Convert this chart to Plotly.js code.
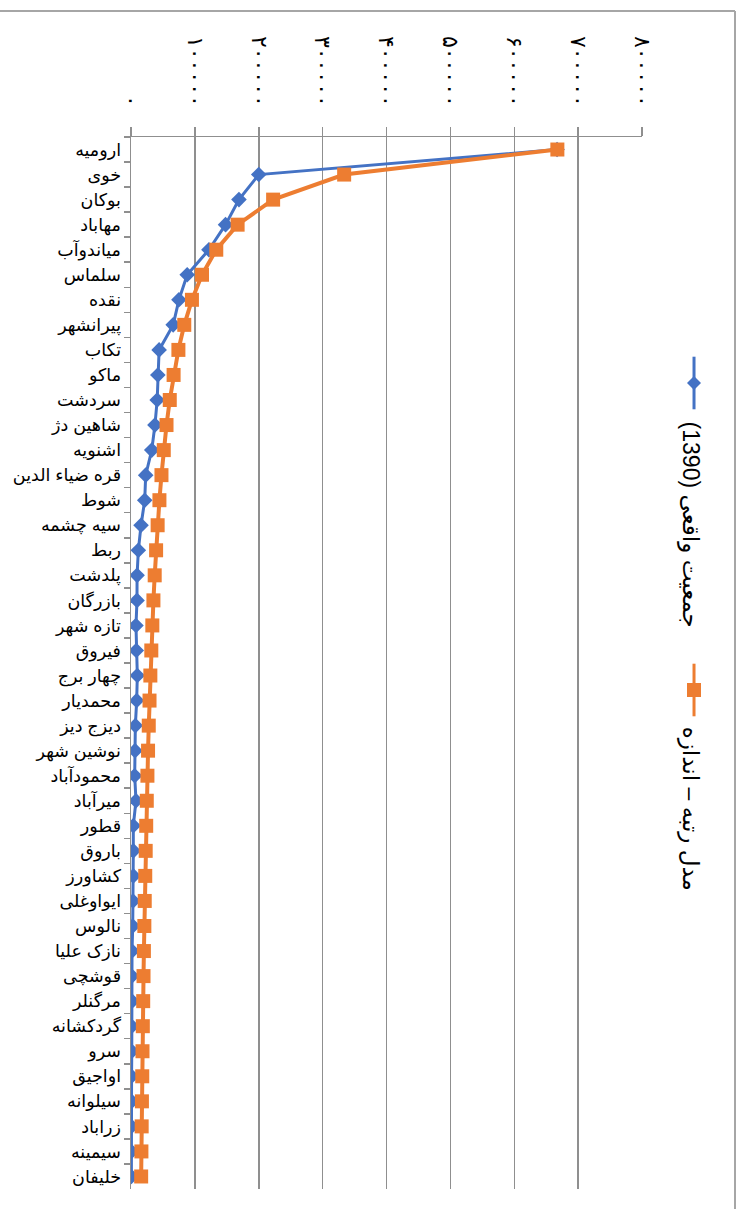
<!DOCTYPE html>
<html>
<head>
<meta charset="utf-8">
<script src="https://cdn.plot.ly/plotly-3.0.1.min.js"></script>
<style>
  html, body { margin: 0; padding: 0; background: #fff; }
  #chart { width: 740px; height: 1209px; }
</style>
</head>
<body>
<div id="chart"></div>
<script>
// West Azerbaijan towns, ranked by population (1390 census) vs rank-size model
var cities = ["ارومیه", "خوی", "بوکان", "مهاباد", "میاندوآب", "سلماس", "نقده", "پیرانشهر", "تکاب", "ماکو",
  "سردشت", "شاهین دژ", "اشنویه", "قره ضیاء الدین", "شوط", "سیه چشمه", "ربط", "پلدشت", "بازرگان", "تازه شهر",
  "فیروق", "چهار برج", "محمدیار", "دیزج دیز", "نوشین شهر", "محمودآباد", "میرآباد", "قطور", "باروق", "کشاورز",
  "ایواوغلی", "نالوس", "نازک علیا", "قوشچی", "مرگنلر", "گردکشانه", "سرو", "اواجیق", "سیلوانه", "زراباد",
  "سیمینه", "خلیفان"];

var actualPop = [667000, 200000, 169000, 148000, 122000, 88000, 75000, 66000, 44000, 42000,
  41000, 37500, 32500, 23000, 21500, 15700, 11500, 9500, 9400, 7800,
  8300, 9900, 8900, 6800, 6300, 5800, 7800, 3600, 3600, 3600,
  3100, 2700, 1600, 1200, 1600, 1200, 1200, 900, 900, 700,
  700, 600];

var rankSizePop = [667500, 333700, 222500, 166900, 133500, 111200, 95400, 83400, 74200, 66700,
  60700, 55600, 51300, 47700, 44500, 41700, 39300, 37100, 35100, 33400,
  31800, 30300, 29000, 27800, 26700, 25700, 24700, 23800, 23000, 22300,
  21500, 20900, 20200, 19600, 19100, 18500, 18000, 17600, 17100, 16700,
  16300, 15900];

var tickVals = [0, 100000, 200000, 300000, 400000, 500000, 600000, 700000, 800000];
var tickText = ["۰", "۱۰۰۰۰۰", "۲۰۰۰۰۰", "۳۰۰۰۰۰", "۴۰۰۰۰۰", "۵۰۰۰۰۰", "۶۰۰۰۰۰", "۷۰۰۰۰۰", "۸۰۰۰۰۰"];

var seriesNames = ["جمعیت واقعی (1390)", "مدل رتبه – اندازه"];

var BLUE = "#4472C4", ORANGE = "#ED7D31", GRID = "#8f8f8f";
var FONT = "Arial, 'Liberation Sans', 'DejaVu Sans', sans-serif";

var traces = [
  { x: actualPop, y: cities, name: seriesNames[0], type: "scatter", mode: "lines+markers",
    line: { color: BLUE, width: 3 }, marker: { symbol: "diamond", size: 12, color: BLUE } },
  { x: rankSizePop, y: cities, name: seriesNames[1], type: "scatter", mode: "lines+markers",
    line: { color: ORANGE, width: 4 }, marker: { symbol: "square", size: 14, color: ORANGE } }
];

// legend is drawn by hand: the picture has it turned on its side
function legendItem(cy, color, symbolPath, textY, label) {
  return {
    shapes: [
      { type: "line", xref: "paper", yref: "paper", x0: 1.1018, x1: 1.1018, y0: cy + 0.025, y1: cy - 0.025,
        line: { color: color, width: 3 } },
      { type: "path", xref: "paper", yref: "paper", xsizemode: "pixel", ysizemode: "pixel",
        xanchor: 1.1018, yanchor: cy, path: symbolPath, fillcolor: color, line: { width: 0 } }
    ],
    annotation: { xref: "paper", yref: "paper", x: 1.1018, y: textY, xshift: 12,
      text: "\u202B" + label + "\u202C",
      showarrow: false, textangle: 90, font: { family: FONT, size: 23, color: "#000" } }
  };
}

var legA = legendItem((1189 - 383) / 1052, BLUE, "M0,-7 L7,0 L0,7 L-7,0 Z", 0.632, seriesNames[0]);
var legB = legendItem((1189 - 690) / 1052, ORANGE, "M-7,-7 L7,-7 L7,7 L-7,7 Z", 0.362, seriesNames[1]);

var frame = [
  { type: "line", xref: "paper", yref: "paper", x0: -0.26, x1: 1.182, y0: 1.1198, y1: 1.1198,
    line: { color: "#a6a6a6", width: 2 } },
  { type: "line", xref: "paper", yref: "paper", x0: 1.182, x1: 1.182, y0: 1.1198, y1: -0.03,
    line: { color: "#a6a6a6", width: 2 } }
];

var layout = {
  width: 740, height: 1209,
  margin: { l: 131, r: 98, t: 137, b: 20 },
  paper_bgcolor: "#fff", plot_bgcolor: "#fff",
  showlegend: false,
  font: { family: FONT, color: "#000" },
  xaxis: {
    range: [0, 800000], side: "top", tickmode: "array", tickvals: tickVals, ticktext: tickText,
    tickangle: 90, tickfont: { family: FONT, size: 22, color: "#000" },
    ticks: "outside", ticklen: 9, tickcolor: GRID, tickwidth: 1.5, ticklabelstandoff: 12,
    showgrid: true, gridcolor: GRID, gridwidth: 1.5, zeroline: false,
    showline: true, linecolor: GRID, linewidth: 1.5, fixedrange: true
  },
  yaxis: {
    type: "category", categoryorder: "array", categoryarray: cities, range: [41.5, -0.5],
    tickson: "boundaries", ticks: "outside", ticklen: 6, tickcolor: GRID, tickwidth: 1.5,
    tickfont: { family: FONT, size: 17.5, color: "#000" }, ticklabelstandoff: 5,
    showgrid: false, zeroline: false, showline: true, linecolor: GRID, linewidth: 1.5, fixedrange: true
  },
  shapes: frame.concat(legA.shapes, legB.shapes),
  annotations: [legA.annotation, legB.annotation]
};

Plotly.newPlot("chart", traces, layout, { staticPlot: true, displayModeBar: false });
</script>
</body>
</html>
